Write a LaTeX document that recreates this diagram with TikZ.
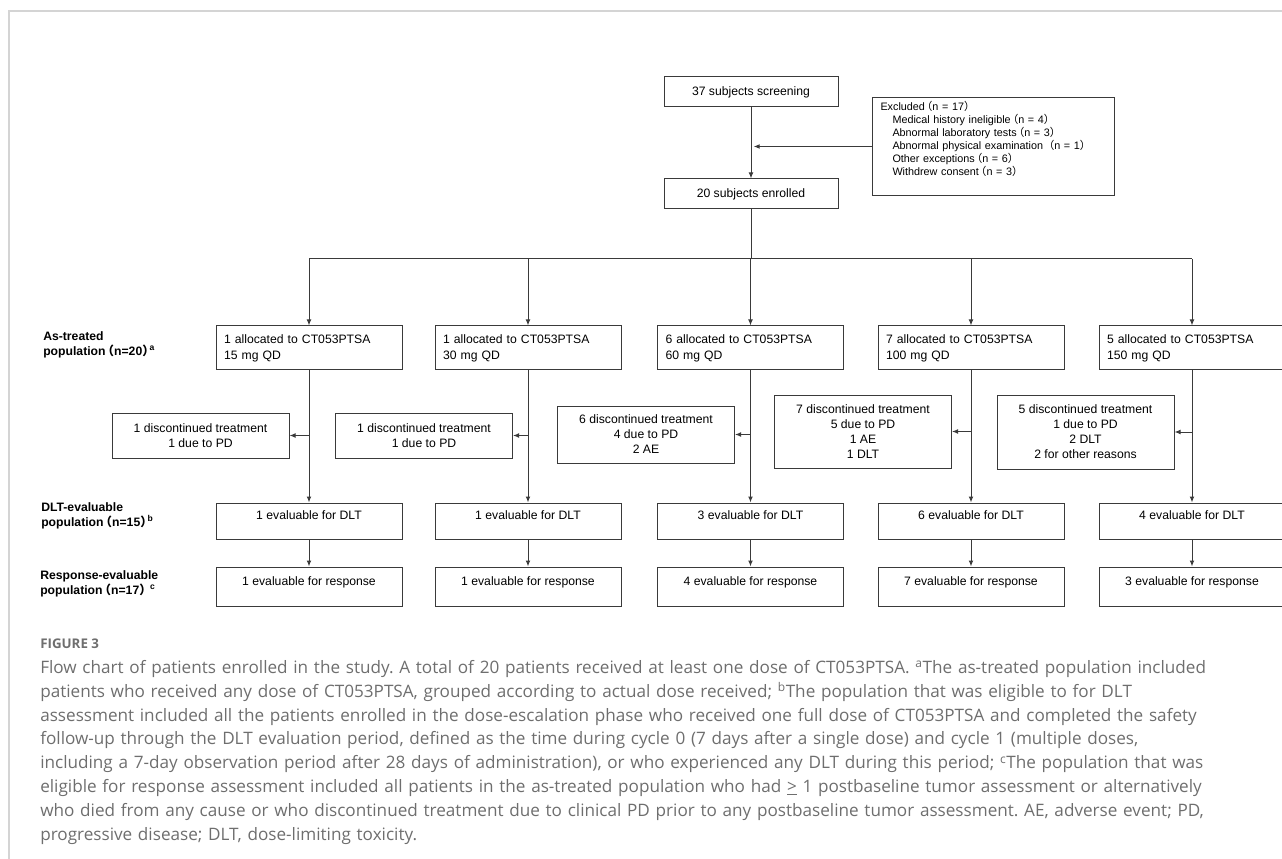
\documentclass[tikz,border=0pt]{standalone}
\usepackage{fontspec}
\setmainfont{Liberation Sans}
\newfontfamily\capfont{Open Sans}
\newfontfamily\cjk{Noto Sans CJK SC}
\newcommand\fwlp{\kern-0.3em{\cjk（}}
\newcommand\fwrp{{\cjk）}\kern-0.4em}
\usetikzlibrary{arrows.meta}
\definecolor{linegray}{HTML}{3A3A3A}
\definecolor{framegray}{HTML}{D4D4D4}
\definecolor{captiongray}{HTML}{6E6E6E}
\frenchspacing
\begin{document}
\begin{tikzpicture}
[x=0.75pt,y=-0.75pt,
  boxdecorate/.style={shape=rectangle,draw=linegray,line width=0.75pt,inner sep=0pt,
    font=\fontsize{9.15}{11.25}\selectfont,align=center},
  smalldecorate/.style={boxdecorate,minimum width=130.5pt,minimum height=22.5pt},
  allocdecorate/.style={boxdecorate,minimum width=139.5pt,minimum height=33pt,
    text width=127.5pt,align=left,font=\fontsize{9.15}{12}\selectfont},
  discdecorate/.style={boxdecorate,minimum width=132.75pt},
  dltdecorate/.style={boxdecorate,minimum width=139.5pt,text height=12.3pt,text depth=14.7pt},
  respdecorate/.style={boxdecorate,minimum width=139.5pt,text height=13.8pt,text depth=15.45pt},
  labeldecorate/.style={anchor=west,align=left,inner sep=0pt,
    font=\bfseries\fontsize{9.15}{11.25}\selectfont},
  linedecorate/.style={-,draw=linegray,line width=0.75pt},
  arrowdecorate/.style={-{Latex[length=4.5pt,width=3.6pt]},draw=linegray,line width=0.75pt}]
\useasboundingbox (0,0) rectangle (1282,859);
%% page frame
\draw[framegray,line width=1.5pt] (9,859) -- (9,11) -- (1282,11);
%% screening and exclusion
\node (screening) at (751,92) [smalldecorate] {37 subjects screening};
\node (enrolled) at (751,194) [smalldecorate] {20 subjects enrolled};
\node (excluded) at (872,97) [boxdecorate,anchor=north west,minimum width=181.5pt,
  minimum height=73.5pt,text width=169.5pt,align=left,font=\fontsize{8.1}{9.75}\selectfont]
  {Excluded\fwlp n = 17\fwrp\\
   \hspace*{9pt}Medical history ineligible\fwlp n = 4\fwrp\\
   \hspace*{9pt}Abnormal laboratory tests\fwlp n = 3\fwrp\\
   \hspace*{9pt}Abnormal physical examination \fwlp n = 1\fwrp\\
   \hspace*{9pt}Other exceptions\fwlp n = 6\fwrp\\
   \hspace*{9pt}Withdrew consent\fwlp n = 3\fwrp\\
   \strut};
\coordinate (split) at (751,259);
%% row labels
\node (treatedlabel) at (43,344.5) [labeldecorate]
  {As-treated\\population\fwlp n=20\fwrp\textsuperscript{a}};
\node (dltlabel) at (41,515.5) [labeldecorate]
  {DLT-evaluable\\population\fwlp n=15\fwrp\textsuperscript{b}};
\node (resplabel) at (40,583.5) [labeldecorate]
  {Response-evaluable\\population\fwlp n=17\fwrp\ \textsuperscript{c}};
%% dose arms
\foreach \dose/\x/\ntreat/\ndlt/\nresp in {15/309/1/1/1, 30/528/1/1/1,
  60/750.5/6/3/4, 100/971/7/6/7, 150/1192/5/4/3}
{
  \node (alloc\dose) at (\x,348) [allocdecorate] {\ntreat\ allocated to CT053PTSA\\\dose\ mg QD};
  \node (dlt\dose) at (\x,521) [dltdecorate] {\ndlt\ evaluable for DLT};
  \node (resp\dose) at (\x,586.5) [respdecorate] {\nresp\ evaluable for response};
}
%% discontinued treatment
\foreach \dose/\x/\y/\h/\reasons in {
  15/200.5/435.5/45/{1 discontinued treatment\\1 due to PD},
  30/424/435.5/45/{1 discontinued treatment\\1 due to PD},
  60/646/434.5/57/{6 discontinued treatment\\4 due to PD\\2 AE},
  100/863/431.5/73/{7 discontinued treatment\\5 due to PD\\1 AE\\1 DLT},
  150/1085.5/432/74/{5 discontinued treatment\\1 due to PD\\2 DLT\\2 for other reasons}}
{
  \node (disc\dose) at (\x,\y) [discdecorate,minimum height=\h*0.75pt] {\reasons};
}
%% edges
\draw[arrowdecorate] (screening) -- (enrolled);
\draw[arrowdecorate,shorten >=2pt] (excluded.west) -- (screening.south |- excluded.west);
\draw[linedecorate] (enrolled.south) -- (split);
\draw[linedecorate] (alloc15.north |- split) -- (alloc150.north |- split);
\foreach \dose in {15,30,60,100,150}
{
  \draw[arrowdecorate] (alloc\dose.north |- split) -- (alloc\dose.north);
  \draw[arrowdecorate] (alloc\dose.south) -- (dlt\dose.north);
  \draw[arrowdecorate] (alloc\dose.south |- disc\dose.east) -- (disc\dose.east);
  \draw[arrowdecorate] (dlt\dose.south) -- (resp\dose.north);
}
%% caption
\node (figlabel) at (40,644) [anchor=west,inner sep=0pt,text=captiongray,
  font=\capfont\bfseries\fontsize{10}{11}\selectfont] {FIGURE 3};
\node (caption) at (40,660) [anchor=north west,inner sep=0pt,text=captiongray,
  text width=950pt,align=left,font=\capfont\fontsize{12.85}{17.9}\selectfont]
  {Flow chart of patients enrolled in the study. A total of 20 patients received at least one dose of CT053PTSA. \textsuperscript{a}The as-treated population included\\
   patients who received any dose of CT053PTSA, grouped according to actual dose received; \textsuperscript{b}The population that was eligible to for DLT\\
   assessment included all the patients enrolled in the dose-escalation phase who received one full dose of CT053PTSA and completed the safety\\
   follow-up through the DLT evaluation period, defined as the time during cycle 0 (7 days after a single dose) and cycle 1 (multiple doses,\\
   including a 7-day observation period after 28 days of administration), or who experienced any DLT during this period; \textsuperscript{c}The population that was\\
   eligible for response assessment included all patients in the as-treated population who had \underline{>} 1 postbaseline tumor assessment or alternatively\\
   who died from any cause or who discontinued treatment due to clinical PD prior to any postbaseline tumor assessment. AE, adverse event; PD,\\
   progressive disease; DLT, dose-limiting toxicity.};
\end{tikzpicture}
\end{document}
